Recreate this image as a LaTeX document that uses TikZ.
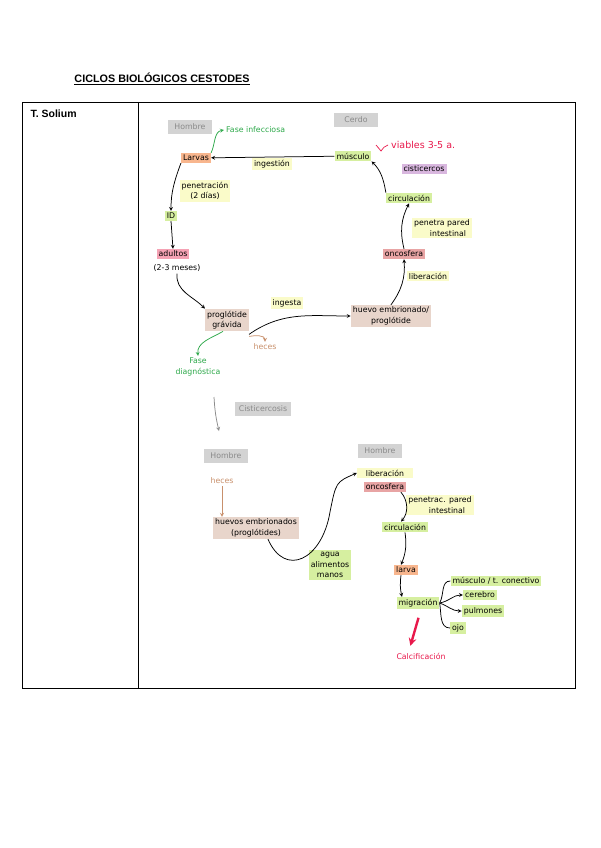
\documentclass[tikz,border=0pt]{standalone}
\usepackage{fontspec}
\setmainfont{Liberation Sans}
\newfontfamily\handfont{DejaVu Sans}
\definecolor{hostgray}{HTML}{D3D3D3}
\definecolor{hosttext}{HTML}{8A8A8A}
\definecolor{peach}{HTML}{F8B68E}
\definecolor{leaf}{HTML}{D6EFA0}
\definecolor{cream}{HTML}{FAFBC9}
\definecolor{lilac}{HTML}{D9B7DF}
\definecolor{rose}{HTML}{E8A4A4}
\definecolor{pinkish}{HTML}{F5A2B4}
\definecolor{beige}{HTML}{E8D5CB}
\definecolor{fasegreen}{HTML}{2DA84A}
\definecolor{alert}{HTML}{E8184B}
\definecolor{brownish}{HTML}{C8906C}
\begin{document}
\begin{tikzpicture}[
  x=1pt, y=-1pt,
  hw/.style={font=\handfont\fontsize{7.8}{10.5}\selectfont, inner sep=2pt, align=center},
  tag/.style={hw, fill=#1},
  note/.style={hw, text=#1},
  host/.style={hw, fill=hostgray, text=hosttext, minimum height=14pt, minimum width=44pt, inner xsep=4pt},
  link/.style={->, line width=0.75pt},
  >=stealth
]
\useasboundingbox (0,0) rectangle (600,848);
\node[font=\bfseries\fontsize{10.8}{12}\selectfont] (titulo) at (162,79) {\underline{CICLOS BIOLÓGICOS CESTODES}};
\draw[line width=0.8pt] (22,102) rectangle (575,688);
\draw[line width=0.8pt] (138,102) -- (138,688);
\node[font=\bfseries\fontsize{10.5}{12}\selectfont, anchor=west] (especie) at (27,114) {T. Solium};

% ciclo cerdo
\node[host] (hombreA) at (190,127) {Hombre};
\node[host] (cerdo) at (356,120) {Cerdo};
\node[note=fasegreen, anchor=west] (infec) at (224,130) {Fase infecciosa};
\node[tag=peach] (larvas) at (196,158) {Larvas};
\node[tag=leaf] (musculo) at (353,156) {músculo};
\node[tag=cream] (ingest) at (272,164) {ingestión};
\node[note=alert, anchor=west, font=\handfont\fontsize{9.5}{11}\selectfont] (viables) at (389,145) {viables 3-5 a.};
\node[tag=lilac] (cisti) at (424,169) {cisticercos};
\node[tag=leaf] (circA) at (409,198) {circulación};
\node[tag=cream] (penetra) at (442,228) {penetra pared\\\hspace*{12pt}intestinal};
\node[tag=rose] (oncoA) at (404,254) {oncosfera};
\node[tag=cream] (liberA) at (428,276) {liberación};
\node[tag=beige] (huevoA) at (391,316) {huevo embrionado/\\proglótide};
\node[tag=cream] (ingesta) at (287,303) {ingesta};
\node[tag=beige] (proglo) at (227,320) {proglótide\\grávida};
\node[note=brownish] (hecesA) at (265,347) {heces};
\node[note=fasegreen] (diag) at (198,367) {Fase\\diagnóstica};
\node[tag=pinkish] (adultos) at (173,254) {adultos};
\node[hw] (meses) at (177,268) {(2-3 meses)};
\node[tag=leaf] (id) at (171,216) {ID};
\node[tag=cream] (penet) at (205,191) {penetración\\(2 días)};
\draw[link] (musculo) -- (larvas);
\draw[link, fasegreen] (larvas.north east) to[out=65,in=190] (infec.west);
\draw[alert, line width=0.7pt] (376,145) -- (381,151) to[out=60,in=200] (388,145);
\draw[link] (circA.north west) to[out=100,in=-45] (musculo.south east);
\draw[link] (oncoA.north) to[bend left=20] (circA.south);
\draw[link] (huevoA.north) to[bend right=20] (oncoA.south);
\draw[link] ([yshift=-3pt]proglo.south east) to[out=35,in=180] (huevoA.west);
\draw[link, brownish] ([yshift=-5pt]proglo.south east) to[out=10,in=90] (hecesA.north);
\draw[link, fasegreen] ([xshift=-26pt]proglo.south east) to[out=-150,in=95] (diag.north);
\draw[link] (meses.south) to[out=-95,in=135] (proglo.north west);
\draw[link] (id.south) -- (adultos.north);
\draw[link] (larvas.south west) to[out=-110,in=90] (id.north);

% cisticercosis
\coordinate (gA) at (214,397);
\coordinate (gB) at (219,431);
\draw[link, hosttext] (gA) to[bend right=5] (gB);
\node[host] (cisticercosis) at (263,409) {Cisticercosis};
\node[host] (hombreB) at (226,456) {Hombre};
\node[note=brownish] (hecesB) at (222,481) {heces};
\node[tag=beige] (huevosB) at (256,528) {huevos embrionados\\(proglótides)};
\node[tag=leaf] (agua) at (330,565) {agua\\alimentos\\manos};
\node[host] (hombreC) at (380,451) {Hombre};
\node[tag=cream, minimum width=56pt] (liberB) at (385,473) {liberación};
\node[tag=rose] (oncoB) at (385,487) {oncosfera};
\node[tag=cream] (penetB) at (440,505) {penetrac. pared\\\hspace*{14pt}intestinal};
\node[tag=leaf] (circB) at (405,527) {circulación};
\node[tag=peach] (larvaB) at (406,570) {larva};
\node[tag=leaf] (migra) at (418,603) {migración};
\node[tag=leaf] (musc2) at (496,581) {músculo / t. conectivo};
\node[tag=leaf] (cerebro) at (480,595) {cerebro};
\node[tag=leaf] (pulmones) at (483,611) {pulmones};
\node[tag=leaf] (ojo) at (458,628) {ojo};
\node[note=alert] (calc) at (421,656) {Calcificación};
\draw[link, brownish] (hecesB.south) -- (hecesB.south |- huevosB.north);
\draw[link] ([xshift=12pt]huevosB.south) .. controls (285,578) and (322,560) .. (330,512) .. controls (336,482) .. (liberB.west);
\draw[link] ([xshift=16pt]oncoB.south) to[bend left=40] ([xshift=-4pt]circB.north);
\draw[link] (circB.south) to[bend left=15] ([xshift=-5pt]larvaB.north);
\draw[link] ([xshift=-5pt]larvaB.south) to[bend right=10] ([xshift=-16pt]migra.north);
\draw[line width=0.75pt] (migra.east) to[out=60,in=180] (musc2.west);
\draw[link] (migra.east) to[out=10,in=180] (cerebro.west);
\draw[link] (migra.east) to[out=-20,in=180] (pulmones.west);
\draw[line width=0.75pt] (migra.east) to[out=-80,in=180] (ojo.west);
\draw[->, alert, line width=2.4pt, shorten <=9pt, shorten >=5pt] ([xshift=3pt]migra.south) -- ([xshift=-12pt]calc.north);
\end{tikzpicture}
\end{document}
